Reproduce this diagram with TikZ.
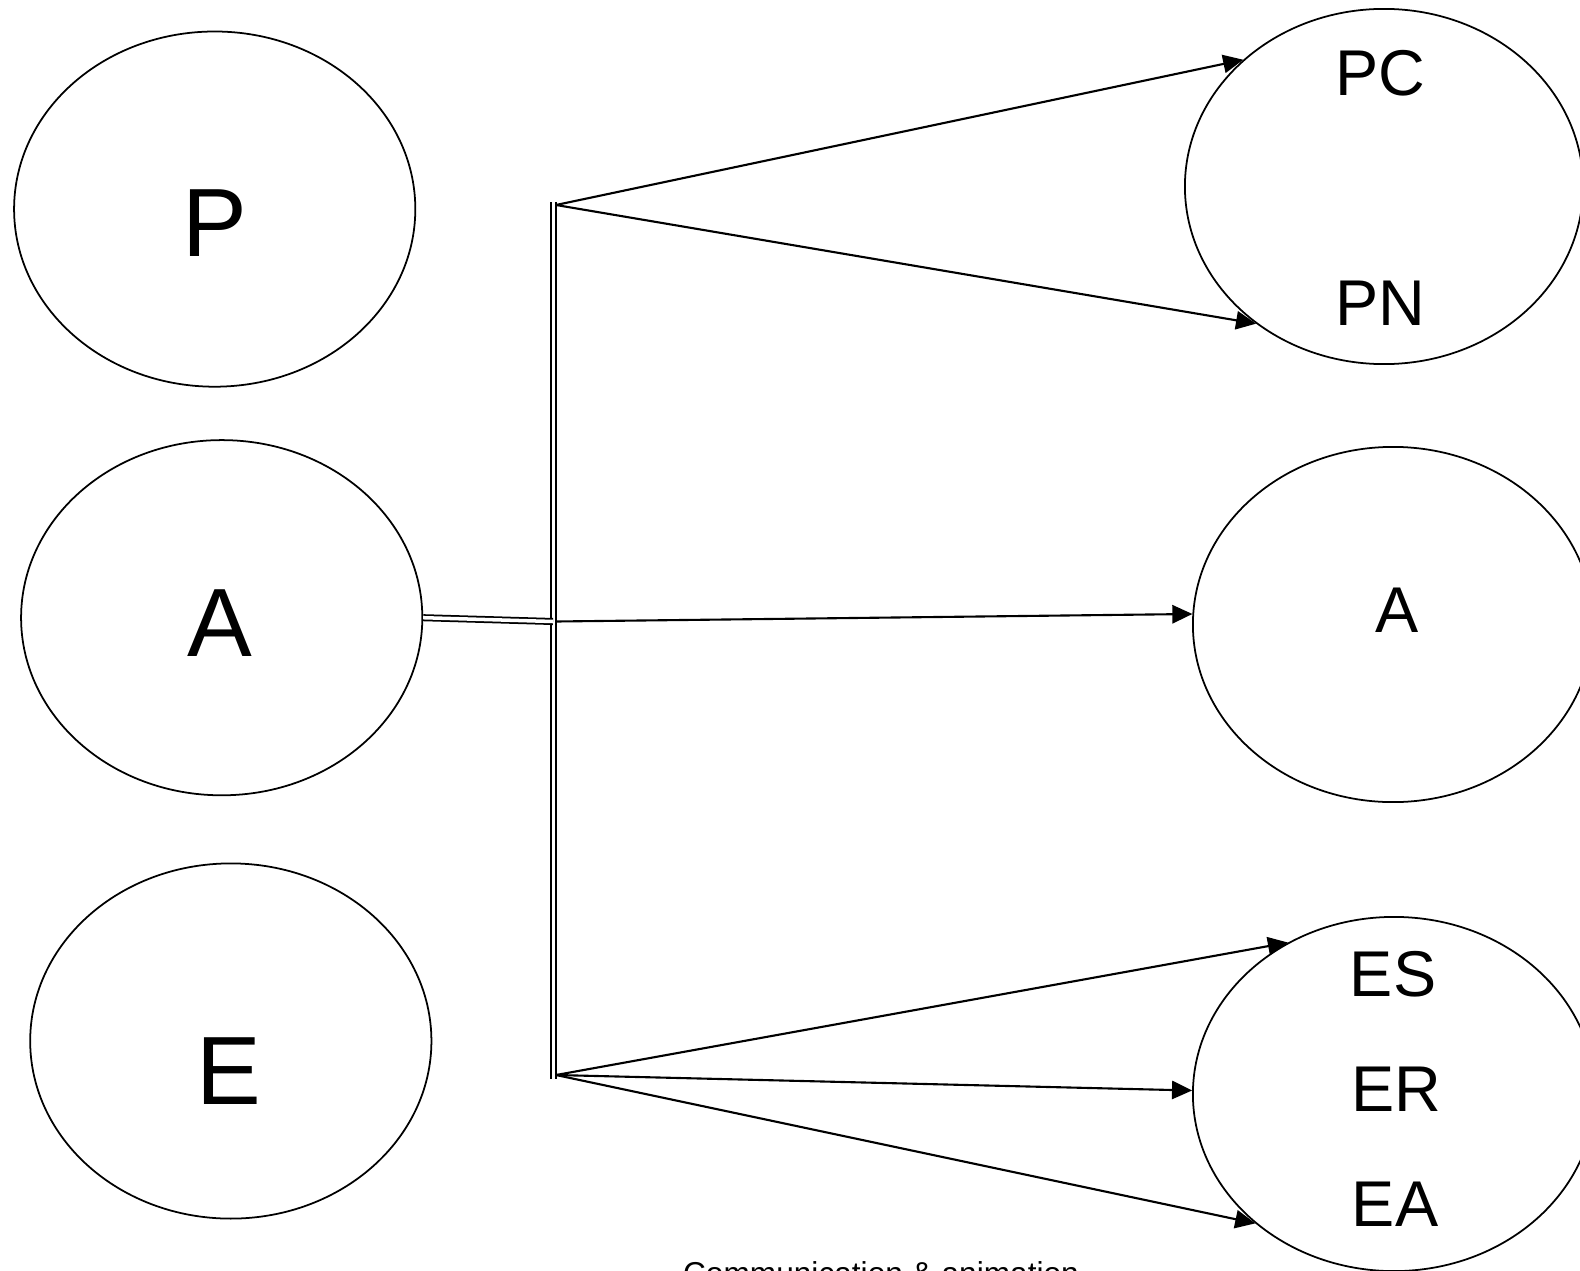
\documentclass[tikz,border=0pt]{standalone}
\usepackage{fontspec}
\setmainfont{Liberation Sans}
\usetikzlibrary{shapes.geometric, arrows.meta}

\begin{document}
\begin{tikzpicture}[x=0.01cm, y=-0.01cm,
  blob/.style={ellipse, draw, line width=0.5pt, inner sep=0pt,
    minimum width=4.01cm, minimum height=3.55cm},
  big/.style={inner sep=0pt, font=\fontsize{27.6}{30}\selectfont},
  small/.style={inner sep=0pt, font=\fontsize{18.4}{20}\selectfont},
  link/.style={line width=0.6pt, -{Triangle[length=5.7pt, width=5.2pt]}},
  bus/.style={double, line width=0.5pt, double distance=1pt}]

\useasboundingbox (0,0) rectangle (1580,1270);

% ---- left ellipses ----
\node[blob] (p) at (214.7,209.1) {};
\node[blob] (a) at (221.7,617.7) {};
\node[blob] (e) at (230.8,1041) {};

\node[big] (plab) at (215,223) {P};
\node[big] (alab) at (219.7,622.8) {A};
\node[big] (elab) at (228.7,1071) {E};

% ---- right ellipses ----
\node[blob, minimum width=3.98cm] (pr) at (1384,186.5) {};
\node[blob, minimum width=4.00cm] (ar) at (1393,624.5) {};
\node[blob, minimum width=4.02cm, minimum height=3.54cm] (er) at (1394,1094) {};

\node[small] (pc) at (1380,73) {PC};
\node[small] (pn) at (1380,303.5) {PN};
\node[small] (arlab) at (1397,610) {A};
\node[small] (es) at (1393,974) {ES};
\node[small] (erlab) at (1396,1089) {ER};
\node[small] (ea) at (1395,1204) {EA};

% ---- bus ----
\coordinate (bustop) at (553.5,202);
\coordinate (busbot) at (553.5,1079);
\coordinate (jp) at (556,205);
\coordinate (ja) at (556,621.5);
\coordinate (je) at (556,1075);
\coordinate (jin) at (553,621.5);

\draw[bus] (bustop) -- (busbot);
\draw[bus] (a.-0.8) -- (jin);

% ---- arrows ----
\draw[link] (jp) -- (pr.138.75);
\draw[link] (jp) -- (pr.227.7);
\draw[link] (ja) -- (ar.177);
\draw[link] (je) -- (er.125.3);
\draw[link] (je) -- (er.179);
\draw[link] (je) -- (er.223.9);

% ---- caption ----
\node[inner sep=0pt, anchor=north, font=\fontsize{9}{11}\selectfont] (cap)
  at (881,1261) {Communication \& animation};

\end{tikzpicture}
\end{document}
